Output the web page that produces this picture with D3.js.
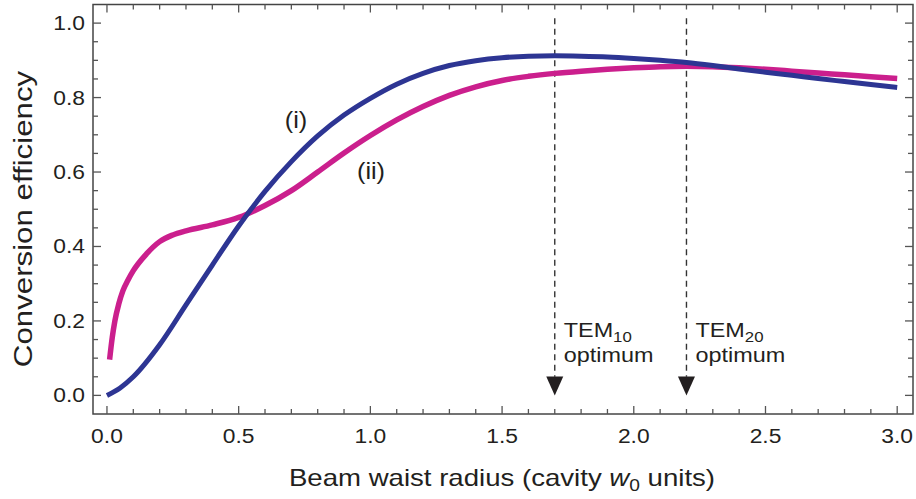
<!DOCTYPE html>
<html><head><meta charset="utf-8">
<script src="https://cdn.jsdelivr.net/npm/d3@7"></script>
<style>body{margin:0;background:#fff}svg{display:block}text{font-family:"Liberation Sans",Arial,Helvetica,sans-serif;fill:#231f20}</style>
</head><body>
<svg id="c" width="916" height="499"></svg>
<script>
const blueX = [0,0.05,0.1,0.2,0.3,0.4,0.5,0.6,0.7,0.8,0.9,1.0,1.1,1.2,1.3,1.4,1.5,1.6,1.7,1.8,1.9,2.0,2.1,2.2,2.3,2.4,2.5,2.6,2.7,2.8,2.9,3.0];
const blueY = [0.0,0.02,0.05,0.136,0.243,0.350,0.455,0.548,0.628,0.697,0.753,0.798,0.836,0.865,0.886,0.899,0.907,0.911,0.912,0.911,0.909,0.905,0.900,0.894,0.886,0.877,0.868,0.860,0.851,0.843,0.835,0.827];
const magX = [0.01,0.02,0.03,0.045,0.06,0.08,0.1,0.15,0.2,0.25,0.3,0.4,0.5,0.6,0.7,0.8,0.9,1.0,1.1,1.2,1.3,1.4,1.5,1.6,1.7,1.8,1.9,2.0,2.1,2.2,2.3,2.4,2.5,2.6,2.7,2.8,2.9,3.0];
const magY = [0.096,0.155,0.2,0.246,0.28,0.31,0.335,0.38,0.413,0.431,0.442,0.458,0.478,0.510,0.550,0.600,0.651,0.698,0.740,0.776,0.806,0.829,0.846,0.857,0.865,0.871,0.876,0.880,0.883,0.884,0.883,0.880,0.876,0.871,0.866,0.861,0.856,0.851];
const xTicks = [0,0.5,1.0,1.5,2.0,2.5,3.0];
const yTicks = [0,0.2,0.4,0.6,0.8,1.0];
const markers = [{x:1.7, sub:"10"},{x:2.2, sub:"20"}];

const svg = d3.select("#c");
const x = d3.scaleLinear().domain([-0.053,3.06]).range([93,913]);
const y = d3.scaleLinear().domain([-0.05,1.05]).range([414,4.5]);
const fmt = d3.format(".1f");

function wtext(px, py, size, s, anchor, rot){
  const tr = `translate(${px},${py})` + (rot?` rotate(${rot})`:"") + ` scale(${s},1)`;
  return svg.append("text").attr("transform",tr).attr("font-size",size).attr("text-anchor",anchor||"start");
}

svg.append("rect").attr("x",93).attr("y",4.5).attr("width",820).attr("height",409.5)
  .attr("fill","none").attr("stroke","#444").attr("stroke-width",1.5);

const tg = svg.append("g").attr("stroke","#555").attr("stroke-width",1.3);
d3.range(0,31).map(i=>i/10).forEach(v=>{
  const major = Math.abs(v*2-Math.round(v*2))<1e-6;
  const L = major?8:5;
  tg.append("line").attr("x1",x(v)).attr("x2",x(v)).attr("y1",414).attr("y2",414-L);
  tg.append("line").attr("x1",x(v)).attr("x2",x(v)).attr("y1",4.5).attr("y2",4.5+L);
});
d3.range(0,21).map(i=>i/20).forEach(v=>{
  const major = Math.abs(v*5-Math.round(v*5))<1e-6;
  const L = major?8:5;
  tg.append("line").attr("y1",y(v)).attr("y2",y(v)).attr("x1",93).attr("x2",93+L);
  tg.append("line").attr("y1",y(v)).attr("y2",y(v)).attr("x1",913).attr("x2",913-L);
});

xTicks.forEach(d=>wtext(x(d),443,19.5,1.17,"middle").text(fmt(d)));
yTicks.forEach(d=>wtext(85,y(d)+7,19.5,1.17,"end").text(fmt(d)));

const xt = wtext(502,486,23,1.2,"middle");
xt.append("tspan").text("Beam waist radius (cavity ");
xt.append("tspan").attr("font-style","italic").text("w");
xt.append("tspan").attr("font-size",16).attr("dy",5).text("0");
xt.append("tspan").attr("dy",-5).text(" units)");
wtext(32,219,25,1.25,"middle",-90).text("Conversion efficiency");

markers.forEach(m=>{
  const px = x(m.x);
  svg.append("line").attr("x1",px).attr("x2",px).attr("y1",y(1.013)).attr("y2",y(0.05))
    .attr("stroke","#333").attr("stroke-width",1.4).attr("stroke-dasharray","6,4.5");
  svg.append("path").attr("d",`M${px-8.5},${y(0.051)} L${px+8.5},${y(0.051)} L${px},${y(0)} Z`).attr("fill","#231f20");
  const t = wtext(px+9,337,19.5,1.2,"start");
  t.append("tspan").text("TEM");
  t.append("tspan").attr("font-size",14).attr("dy",5).text(m.sub);
  wtext(px+9,362,19.5,1.2,"start").text("optimum");
});

const line = d3.line().x(d=>x(d[0])).y(d=>y(d[1])).curve(d3.curveMonotoneX);
svg.append("path").datum(magX.map((v,i)=>[v,magY[i]])).attr("d",line)
  .attr("fill","none").attr("stroke","#cb1f8d").attr("stroke-width",5.5);
svg.append("path").datum(blueX.map((v,i)=>[v,blueY[i]])).attr("d",line)
  .attr("fill","none").attr("stroke","#2d3593").attr("stroke-width",5);

wtext(296,128,23,1.1,"middle").text("(i)");
wtext(371,179,23,1.1,"middle").text("(ii)");
</script>
</body></html>
